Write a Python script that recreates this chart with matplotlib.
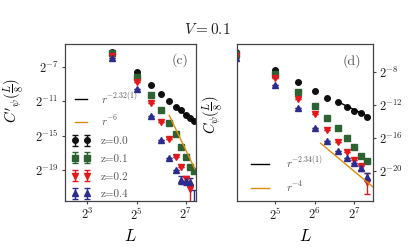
"""Correlation decay panels (c) and (d) at V = 0.1."""

import numpy as np
import matplotlib
matplotlib.use('Agg')
import matplotlib.pyplot as plt

plt.rcParams['mathtext.fontset'] = 'cm'
plt.rcParams['font.family'] = 'serif'
plt.rcParams['font.serif'] = ['cmr10', 'DejaVu Serif']
plt.rcParams['axes.unicode_minus'] = False
plt.rcParams['axes.formatter.use_mathtext'] = True

# system sizes
L = [16, 32, 48, 64, 80, 96, 112, 128, 144, 160]

# panel (c): log2 of C'_psi(L/8)
c_z00 = [-5.26, -7.65, -9.09, -10.17, -10.95, -11.62, -12.08, -12.58, -12.97, -13.36]
c_z01 = [-5.44, -8.16, -10.29, -12.07, -13.57, -14.85, -16.29, -17.52, -18.61, -19.08]
c_z02 = [-5.76, -8.74, -11.25, -13.46, -15.40, -17.50, -18.60, -20.00, -21.20, np.nan]
c_z04 = [-6.00, -9.60, -12.69, -15.50, -17.60, -19.00, -20.16, -20.30, -20.40, -23.00]
# error bars (log2 units: down, up)
c_z02_err = [[0, 0, 0, 0, 0, 0, 0, 0.3, 3.0, 0], [0, 0, 0, 0, 0, 0, 0, 0.3, 0.5, 0]]
c_z04_err = [[0, 0, 0, 0, 0, 0, 0.45, 0.5, 0.5, 3.0], [0, 0, 0, 0, 0, 0, 0.45, 0.5, 0.5, 1.7]]

# panel (d): log2 of C_psi(L/8)
d_z00 = [-5.57, -7.72, -9.22, -10.27, -11.09, -11.65, -12.18, -12.71, -12.99, -13.40]
d_z01 = [-5.77, -8.21, -10.36, -12.06, -13.52, -14.81, -16.03, -17.12, -18.18, -18.75]
d_z02 = [-5.98, -8.73, -11.29, -13.11, -15.02, -16.44, -17.66, -18.67, -19.48, -21.30]
d_z04 = [-6.30, -9.55, -12.38, -14.74, -16.32, -17.54, -18.46, -19.07, -19.68, -20.77]
d_z02_err = [[0, 0, 0, 0, 0, 0, 0, 0, 0.4, 1.5], [0, 0, 0, 0, 0, 0, 0, 0, 0.4, 1.0]]
d_z04_err = [[0, 0, 0, 0, 0, 0, 0, 0, 0.3, 0.5], [0, 0, 0, 0, 0, 0, 0, 0, 0.3, 0.5]]

ZERO_ERR = [[0] * 10, [0] * 10]

# power-law fits: (log2 prefactor, exponent, L range)
c_fit_black = (3.66, -2.32, [96, 160])
c_fit_orange = (25.29, -6.0, [80, 164])
d_fit_black = (3.82, -2.34, [96, 160])
d_fit_orange = (7.96, -4.0, [71, 190])

Z_LABELS = ['z=0.0', 'z=0.1', 'z=0.2', 'z=0.4']
COLORS = ['#111111', '#2f6233', '#e2191c', '#2c2c8c']
MARKERS = ['o', 's', 'v', '^']
ORANGE = '#dc8c0c'
SPINE = '#444444'
TEXT = '#222222'


def draw_series(ax, series, errs):
    for vals, err, col, mk, lab in zip(series, errs, COLORS, MARKERS, Z_LABELS):
        y = 2.0 ** np.array(vals)
        lo = y - 2.0 ** (np.array(vals) - np.array(err[0]))
        hi = 2.0 ** (np.array(vals) + np.array(err[1])) - y
        ax.errorbar(L, y, yerr=[lo, hi], fmt=mk, color=col, ms=4.0,
                    elinewidth=1.0, capsize=2, capthick=1.0, label=lab,
                    clip_on=True)


def draw_fit(ax, fit, color, label):
    a, p, rng = fit
    x = np.array(rng, dtype=float)
    ax.plot(x, 2.0 ** a * x ** p, color=color, lw=1.0, label=label, zorder=3)


def style(ax):
    ax.set_xscale('log', base=2)
    ax.set_yscale('log', base=2)
    ax.minorticks_off()
    for s in ax.spines.values():
        s.set_color(SPINE)
        s.set_linewidth(0.9)
    ax.tick_params(labelsize=9, length=2.5, width=0.8, color=SPINE,
                   labelcolor=TEXT, pad=2)


fig = plt.figure(figsize=(4.15, 2.49), dpi=100)
fig.patch.set_facecolor('white')

# ---- panel (c)
ax1 = fig.add_axes([0.157, 0.193, 0.316, 0.630])
style(ax1)
draw_fit(ax1, c_fit_black, 'black', r'$r^{-2.32(1)}$')
draw_fit(ax1, c_fit_orange, ORANGE, r'$r^{-6}$')
draw_series(ax1, [c_z00, c_z01, c_z02, c_z04], [ZERO_ERR, ZERO_ERR, c_z02_err, c_z04_err])
ax1.set_xlim(2 ** 2.11, 2 ** 7.42)
ax1.set_ylim(2 ** -22.6, 2 ** -4.36)
ax1.set_xticks([2 ** 3, 2 ** 5, 2 ** 7])
ax1.set_xticklabels([r'$2^{3}$', r'$2^{5}$', r'$2^{7}$'])
ax1.set_yticks([2 ** -7, 2 ** -11, 2 ** -15, 2 ** -19])
ax1.set_yticklabels([r'$2^{-7}$', r'$2^{-11}$', r'$2^{-15}$', r'$2^{-19}$'])
ax1.set_xlabel(r'$L$', fontsize=12)
ax1.xaxis.set_label_coords(0.5, -0.17)
ax1.set_ylabel(r"$C'_\psi(\frac{L}{8})$", fontsize=10.5)
ax1.yaxis.set_label_coords(-0.3, 0.64)
ax1.text(0.88, 0.9, '(c)', transform=ax1.transAxes, fontsize=10,
         color='#555555', ha='center', va='center')
ax1.legend(loc='center left', bbox_to_anchor=(0.0, 0.36), frameon=False,
           fontsize=8, numpoints=2, handlelength=1.7, handletextpad=0.9,
           labelspacing=0.72, labelcolor='#555555', borderaxespad=0.2)

# ---- panel (d)
ax2 = fig.add_axes([0.572, 0.193, 0.326, 0.630])
style(ax2)
draw_fit(ax2, d_fit_black, 'black', r'$r^{-2.34(1)}$')
draw_fit(ax2, d_fit_orange, ORANGE, r'$r^{-4}$')
draw_series(ax2, [d_z00, d_z01, d_z02, d_z04], [ZERO_ERR, ZERO_ERR, d_z02_err, d_z04_err])
ax2.set_xlim(2 ** 4.04, 2 ** 7.47)
ax2.set_ylim(2 ** -23.65, 2 ** -4.59)
ax2.yaxis.tick_right()
ax2.set_xticks([2 ** 5, 2 ** 6, 2 ** 7])
ax2.set_xticklabels([r'$2^{5}$', r'$2^{6}$', r'$2^{7}$'])
ax2.set_yticks([2 ** -8, 2 ** -12, 2 ** -16, 2 ** -20])
ax2.set_yticklabels([r'$2^{-8}$', r'$2^{-12}$', r'$2^{-16}$', r'$2^{-20}$'])
ax2.set_xlabel(r'$L$', fontsize=12)
ax2.xaxis.set_label_coords(0.5, -0.17)
ax2.set_ylabel(r'$C_\psi(\frac{L}{8})$', fontsize=10.5)
ax2.yaxis.set_label_position('left')
ax2.yaxis.set_label_coords(-0.09, 0.55)
ax2.text(0.845, 0.89, '(d)', transform=ax2.transAxes, fontsize=10,
         color='#555555', ha='center', va='center')
h, lab = ax2.get_legend_handles_labels()
ax2.legend(h[:2], lab[:2], loc='center left', bbox_to_anchor=(0.05, 0.17),
           frameon=False, fontsize=8, handlelength=1.6, handletextpad=1.6,
           labelspacing=0.8, labelcolor='#555555', borderaxespad=0.2)

fig.text(0.5, 0.88, r'$V = 0.1$', fontsize=11, ha='center', va='center',
         color=TEXT)

fig.savefig('out.png', dpi=100, facecolor='white')
plt.close(fig)
